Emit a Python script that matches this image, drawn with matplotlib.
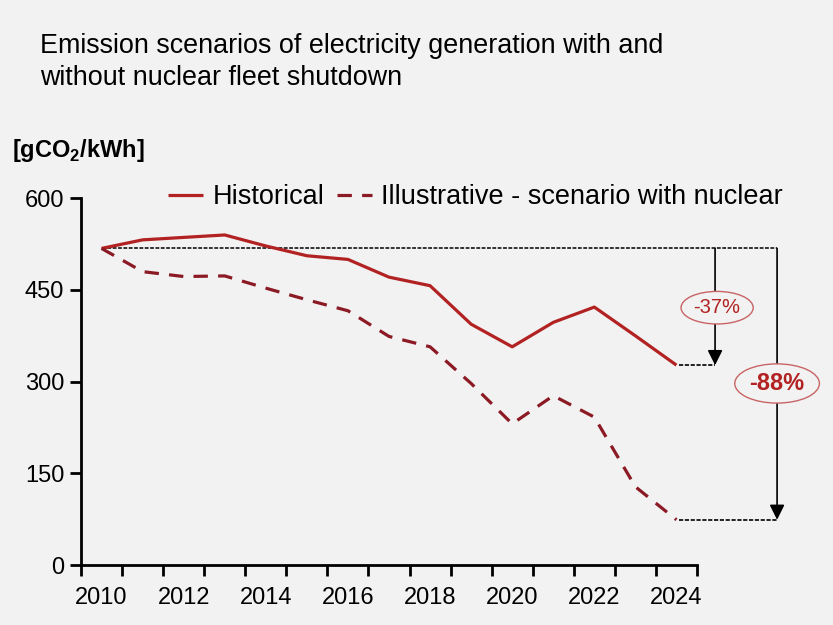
import matplotlib
matplotlib.use("Agg")
import matplotlib.pyplot as plt
import numpy as np

plt.rcParams['font.family'] = ['Liberation Sans', 'DejaVu Sans']
plt.rcParams['mathtext.fontset'] = 'custom'
plt.rcParams['mathtext.rm'] = 'Liberation Sans'
plt.rcParams['mathtext.bf'] = 'Liberation Sans:bold'

years = list(range(2010, 2025))
historical = [518, 532, 536, 540, 522, 506, 500, 471, 457, 394, 357, 397, 422, 375, 327]
nuclear = [518, 480, 472, 473, 453, 434, 416, 374, 357, 297, 231, 277, 242, 128, 74]
yticks = [0, 150, 300, 450, 600]
xlabels = [str(y) for y in years[::2]]
pct_hist = "-37%"
pct_nuc = "-88%"

BG = '#f2f2f2'
RED = '#b22222'
DRED = '#8b1a24'

fig = plt.figure(figsize=(8.33, 6.25), dpi=100, facecolor=BG)
ax = fig.add_axes([81/833, 1 - 565/625, (697 - 81)/833, (565 - 198.3)/625])
ax.set_facecolor(BG)

x = np.arange(len(years))
ax.plot(x, historical, color=RED, lw=2.3, solid_capstyle='butt', label='Historical', zorder=3)
ax.plot(x, nuclear, color=DRED, lw=2.3, dashes=(4.5, 3.2), label='Illustrative - scenario with nuclear', zorder=3)

ax.set_xlim(-0.5, len(years) - 0.5)
ax.set_ylim(0, 600)
ax.set_yticks(yticks)
ax.set_yticklabels([str(v) for v in yticks])
ax.set_xticks(np.arange(-0.5, len(years), 1.0))
ax.set_xticklabels([])
ax.set_xticks(x[::2], minor=True)
ax.set_xticklabels(xlabels, minor=True)
ax.tick_params(axis='x', which='major', length=8, width=2, direction='out', color='black')
ax.tick_params(axis='x', which='minor', length=0, labelsize=17, pad=16)
ax.tick_params(axis='y', length=8, width=2, direction='out', labelsize=17, pad=4)
for s in ['top', 'right']:
    ax.spines[s].set_visible(False)
for s in ['left', 'bottom']:
    ax.spines[s].set_linewidth(2)
ax.spines['left'].set_bounds(0, 600)

# reference lines and arrows
base = historical[0]
last = len(years) - 1
x_a1 = 14.94
x_a2 = 16.45
ax.plot([0, x_a2], [base, base], color='black', lw=1.1, dashes=(2.5, 1), clip_on=False, zorder=2)
ax.plot([last + 0.05, x_a1], [historical[-1]] * 2, color='black', lw=1.2, dashes=(2.5, 1), clip_on=False, zorder=2)
ax.plot([last + 0.05, x_a2], [nuclear[-1]] * 2, color='black', lw=1.2, dashes=(2.5, 1), clip_on=False, zorder=2)
for xa, yend in [(x_a1, historical[-1]), (x_a2, nuclear[-1])]:
    ax.annotate('', xy=(xa, yend), xytext=(xa, base), annotation_clip=False,
                arrowprops=dict(arrowstyle='-|>,head_length=0.9,head_width=0.45', color='black',
                                lw=1.2, shrinkA=0, shrinkB=0))

ax.text(x_a1 + 0.05, 421, pct_hist, ha='center', va='center', fontsize=14.5, color=RED, clip_on=False,
        bbox=dict(boxstyle='ellipse,pad=0.1', fc=BG, ec='#c86464', lw=1), zorder=5)
ax.text(x_a2, 297, pct_nuc, ha='center', va='center', fontsize=17, color=RED, fontweight='bold', clip_on=False,
        bbox=dict(boxstyle='ellipse,pad=0.1', fc=BG, ec='#c86464', lw=1), zorder=5)

fig.legend(loc='center left', bbox_to_anchor=(168/833, 1 - 197/625), ncol=2, frameon=False,
           fontsize=19.5, handlelength=1.3, handletextpad=0.35, columnspacing=0.45,
           borderpad=0, borderaxespad=0)

fig.text(40/833, 1 - 62/625, 'Emission scenarios of electricity generation with and\nwithout nuclear fleet shutdown',
         ha='left', va='center', fontsize=19.4, linespacing=1.3)
fig.text(12/833, 1 - 150/625, r'[gCO$_{\mathbf{2}}$/kWh]', ha='left', va='center', fontsize=17, fontweight='bold')

fig.savefig('out.png', dpi=100, facecolor=BG)
